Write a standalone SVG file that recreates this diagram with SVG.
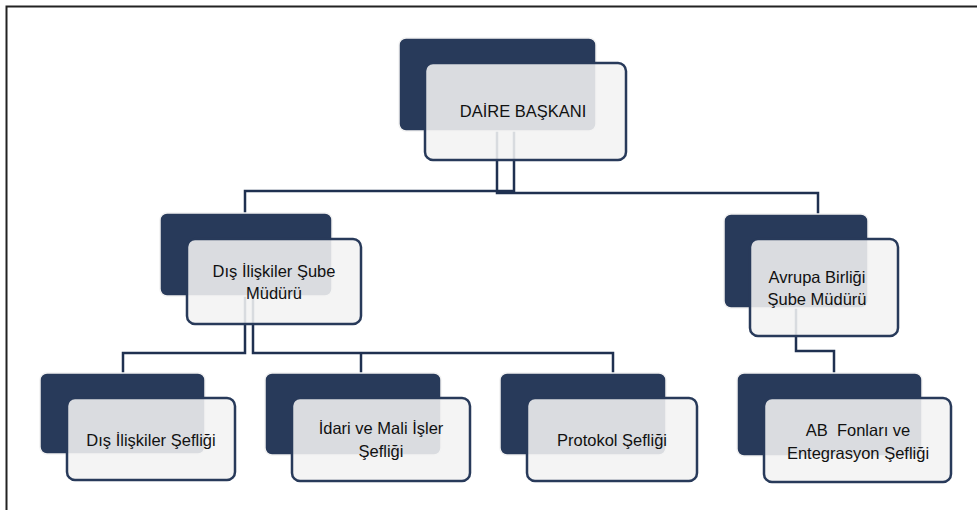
<svg xmlns="http://www.w3.org/2000/svg" width="977" height="510" viewBox="0 0 977 510">
<style>
.dk{fill:#283a5a;stroke:#f2f2f2;stroke-width:1.5}
.lt{fill:#f2f2f2;fill-opacity:0.88;stroke:#283a5a;stroke-width:2.5}
.cn{fill:none;stroke:#1f3050;stroke-width:2.5}
text{font-family:"Liberation Sans",Arial,sans-serif;font-size:16.5px;fill:#111;text-anchor:middle}
</style>
<rect width="977" height="510" fill="#fff"/>
<path d="M6.5,510 V6.5 H977" fill="none" stroke="#222" stroke-width="2"/>
<g id="connectors">
<path class="cn" d="M497,131 V193 H818 V214"/>
<path class="cn" d="M514,131 V191 H245 V213"/>
<path class="cn" d="M245,296 V353 H123 V373"/>
<path class="cn" d="M253,296 V353 H613 V373"/>
<path class="cn" d="M361,353 V373"/>
<path class="cn" d="M796,308 V351 H834 V373"/>
</g>
<g id="n-daire">
<rect class="dk" x="399" y="38" width="197" height="93" rx="7"/>
<rect class="lt" x="425" y="63" width="201" height="97" rx="8"/>
<text x="523" y="117">DAİRE BAŞKANI</text>
</g>
<g id="n-dis-sube">
<rect class="dk" x="160" y="213" width="172" height="83" rx="7"/>
<rect class="lt" x="187" y="239" width="174" height="85" rx="8"/>
<text x="274" y="277">Dış İlişkiler Şube</text>
<text x="274" y="299">Müdürü</text>
</g>
<g id="n-ab-sube">
<rect class="dk" x="724" y="214" width="144" height="94" rx="7"/>
<rect class="lt" x="750" y="239" width="148" height="97" rx="8"/>
<text x="817" y="283">Avrupa Birliği</text>
<text x="817" y="305">Şube Müdürü</text>
</g>
<g id="n-dis-sef">
<rect class="dk" x="40" y="373" width="165" height="81" rx="7"/>
<rect class="lt" x="67" y="398" width="168" height="82" rx="8"/>
<text x="151" y="446">Dış İlişkiler Şefliği</text>
</g>
<g id="n-idari">
<rect class="dk" x="265" y="373" width="176" height="82" rx="7"/>
<rect class="lt" x="292" y="398" width="178" height="83" rx="8"/>
<text x="381" y="434">İdari ve Mali İşler</text>
<text x="381" y="457">Şefliği</text>
</g>
<g id="n-protokol">
<rect class="dk" x="500" y="373" width="166" height="82" rx="7"/>
<rect class="lt" x="527" y="398" width="170" height="83" rx="8"/>
<text x="612" y="446">Protokol Şefliği</text>
</g>
<g id="n-ab-fon">
<rect class="dk" x="737" y="373" width="185" height="83" rx="7"/>
<rect class="lt" x="764" y="398" width="187" height="84" rx="8"/>
<text x="858" y="436" xml:space="preserve">AB  Fonları ve</text>
<text x="858" y="459">Entegrasyon Şefliği</text>
</g>
</svg>
